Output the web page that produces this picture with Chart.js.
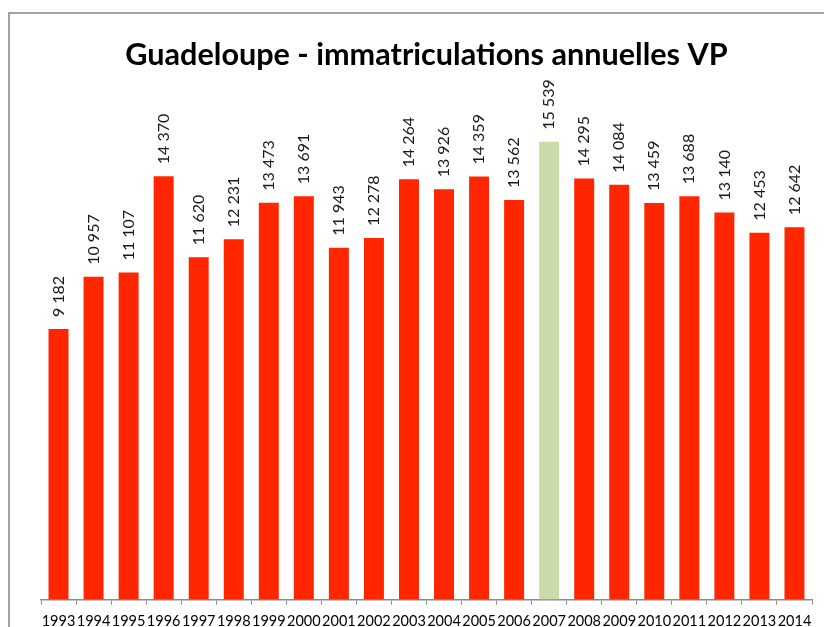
<!DOCTYPE html>
<html>
<head>
<meta charset="utf-8">
<script src="https://cdn.jsdelivr.net/npm/chart.js@4"></script>
<style>
  html, body { margin: 0; padding: 0; background: #fff; }
  #wrap { position: relative; width: 824px; height: 627px; overflow: hidden; }
  #frame { position: absolute; left: 8px; top: 12px; width: 900px; height: 700px;
           border-left: 2px solid #a0a0a0; border-top: 2px solid #a0a0a0; }
  canvas { position: absolute; left: 0; top: 0; }
</style>
</head>
<body>
<div id="wrap">
  <div id="frame"></div>
  <canvas id="chart" width="824" height="627"></canvas>
</div>
<script>
/* Guadeloupe — immatriculations annuelles VP */

const YEARS = ['1993', '1994', '1995', '1996', '1997', '1998', '1999', '2000', '2001', '2002', '2003',
               '2004', '2005', '2006', '2007', '2008', '2009', '2010', '2011', '2012', '2013', '2014'];
const REGISTRATIONS = [9182, 10957, 11107, 14370, 11620, 12231, 13473, 13691, 11943, 12278, 14264,
                       13926, 14359, 13562, 15539, 14295, 14084, 13459, 13688, 13140, 12453, 12642];
const HIGHLIGHT_YEAR = '2007';

const RED   = '#ff2600';
const GREEN = '#cbdaa9';
const FONT  = 'Lato, "Open Sans", sans-serif';

// ── Thousands with a space, French style ──────
function fmt(n) {
  return String(n).replace(/\B(?=(\d{3})+(?!\d))/g, ' ');
}

// ── Rotated value labels above the bars ───────
const valueLabels = {
  id: 'valueLabels',
  afterDatasetsDraw(chart) {
    const ctx = chart.ctx;
    const meta = chart.getDatasetMeta(0);
    ctx.save();
    ctx.fillStyle = '#1a1a1a';
    ctx.font = '16px ' + FONT;
    ctx.textAlign = 'left';
    ctx.textBaseline = 'middle';
    meta.data.forEach((bar, i) => {
      ctx.save();
      ctx.translate(bar.x, bar.y - 12);
      ctx.rotate(-Math.PI / 2);
      ctx.fillText(fmt(REGISTRATIONS[i]), 0, 0);
      ctx.restore();
    });
    ctx.restore();
  },
};

const ctx = document.getElementById('chart').getContext('2d');
new Chart(ctx, {
  type: 'bar',
  data: {
    labels: YEARS,
    datasets: [{
      data: REGISTRATIONS,
      backgroundColor: YEARS.map(y => (y === HIGHLIGHT_YEAR ? GREEN : RED)),
      borderWidth: 0,
      barPercentage: 0.57,
      categoryPercentage: 1,
    }],
  },
  options: {
    responsive: false,
    animation: false,
    layout: { padding: { left: 41, right: 12, top: 0, bottom: -11 } },
    plugins: {
      legend: { display: false },
      tooltip: { enabled: false },
      title: {
        display: true,
        text: 'Guadeloupe - immatriculations annuelles VP',
        color: '#000',
        font: { family: FONT, size: 30.6, weight: 'bold' },
        padding: { top: 37, bottom: 0 },
      },
    },
    scales: {
      x: {
        offset: true,
        grid: { drawOnChartArea: false, drawTicks: true, tickLength: 5, color: '#8a8a8a', offset: true },
        border: { display: true, color: '#8a8a8a', width: 1.5 },
        ticks: { color: '#000', font: { family: FONT, size: 14.5 }, maxRotation: 0, autoSkip: false, padding: 8 },
      },
      y: {
        display: false,
        min: 0,
        max: 17850,
      },
    },
  },
  plugins: [valueLabels],
});
</script>
</body>
</html>
